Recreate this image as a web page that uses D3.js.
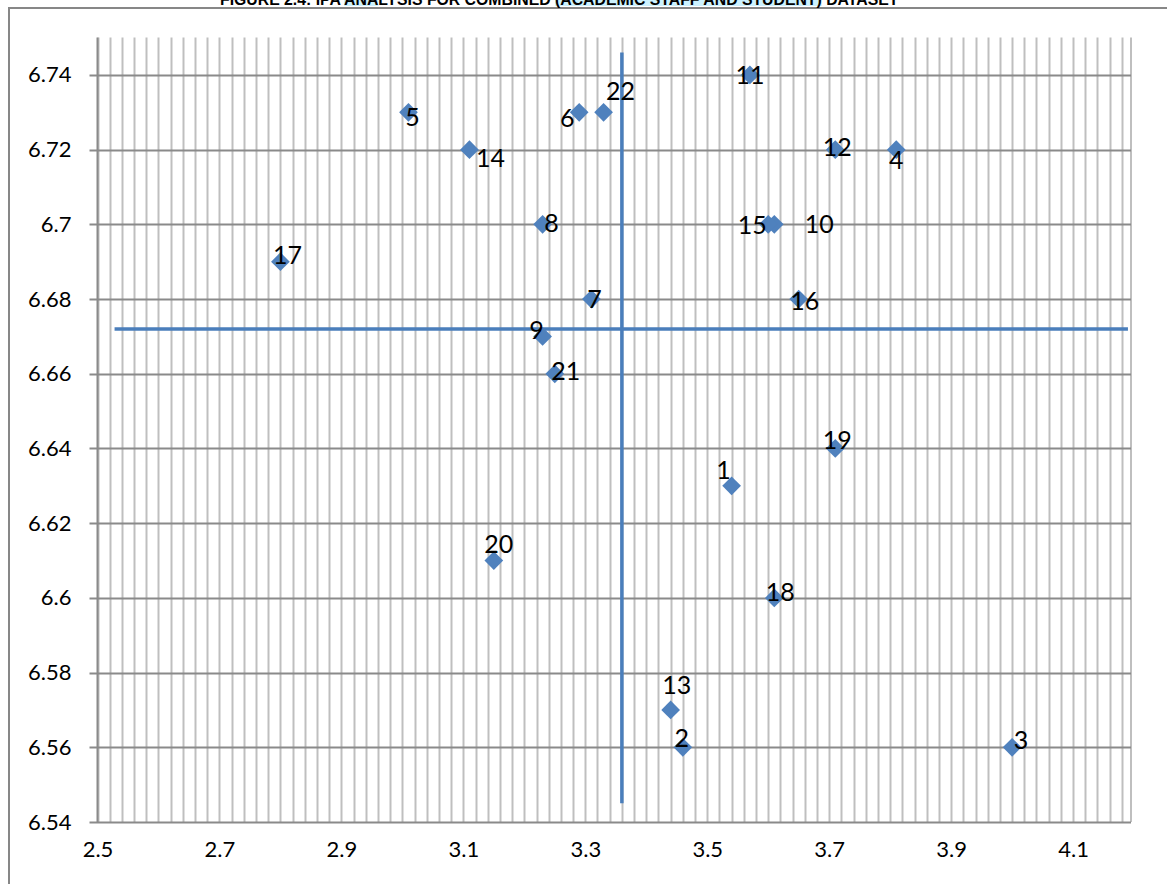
<!DOCTYPE html>
<html lang="en">
    <head>
        <meta charset="utf-8">
        <title>IPA scatter</title>
        <script type="text/javascript" src="https://cdn.jsdelivr.net/npm/d3@7"></script>
        <style type="text/css">
            body { margin: 0; background: #fff; }
            svg { display: block; font-family: Lato, "Open Sans", sans-serif; }
        </style>
    </head>
    <body>
        <script type="text/javascript">
            //Chart size
            var w = 1167;
            var h = 884;

            //Data: item number, x (performance), y (importance)
            var ids = [1, 2, 3, 4, 5, 6, 7, 8, 9, 10, 11, 12, 13, 14, 15, 16, 17, 18, 19, 20, 21, 22];
            var xValues = [3.54, 3.46, 4.00, 3.81, 3.01, 3.29, 3.31, 3.23, 3.23, 3.61, 3.57,
                           3.71, 3.44, 3.11, 3.60, 3.65, 2.80, 3.61, 3.71, 3.15, 3.25, 3.33];
            var yValues = [6.63, 6.56, 6.56, 6.72, 6.73, 6.73, 6.68, 6.70, 6.67, 6.70, 6.74,
                           6.72, 6.57, 6.72, 6.70, 6.68, 6.69, 6.60, 6.64, 6.61, 6.66, 6.73];

            //Crosshair lines (two-point series)
            var vLineX = [3.36, 3.36];
            var vLineY = [6.746, 6.545];
            var hLineX = [2.528, 4.19];
            var hLineY = [6.672, 6.672];

            //Tick labels
            var xTicks = [2.5, 2.7, 2.9, 3.1, 3.3, 3.5, 3.7, 3.9, 4.1];
            var yTicks = [6.54, 6.56, 6.58, 6.6, 6.62, 6.64, 6.66, 6.68, 6.7, 6.72, 6.74];

            var titleParts = ["FIGURE 2.4: IPA ", "ANA", "LYSIS FOR COMBINED ", "(ACADEMIC STAFF AND STUDENT)", " DATASET"];

            //Label nudges (pixels), placed by hand in the original
            var labelOffsets = [[-8, -16], [-1, -9], [9, -7], [0, 10], [4, 5], [-12, 6], [3, 0], [9, -1],
                                [-6, -6], [45, 0], [0, 0], [2, -3], [6, -25], [21, 8], [-16, 1], [6, 2],
                                [7, -7], [6, -6], [2, -8], [5, -17], [11, -3], [17, -21]];

            var svg = d3.select("body")
                        .append("svg")
                        .attr("width", w)
                        .attr("height", h);

            //Plot area
            var pLeft = 97.5, pRight = 1131, pTop = 37.6, pBottom = 822;

            var xScale = d3.scaleLinear()
                            .domain([2.5, 4.195])
                            .range([pLeft, pRight]);

            var yScale = d3.scaleLinear()
                            .domain([6.54, 6.75])
                            .range([pBottom, pTop]);

            //Outer chart border
            svg.append("path")
                .attr("d", "M9,884 V8 H1167")
                .attr("fill", "none")
                .attr("stroke", "#878787")
                .attr("stroke-width", 2);

            //Title (top is cut off in the original)
            var title = svg.append("g");
            var titleText = title.append("text")
                .attr("x", 220)
                .attr("y", 4.5)
                .attr("font-family", "'Liberation Sans', Arial, sans-serif")
                .attr("font-weight", "bold")
                .attr("font-size", "15.8px")
                .attr("fill", "#000");
            titleText.selectAll("tspan")
                .data(titleParts)
                .enter()
                .append("tspan")
                .style("white-space", "pre")
                .text(function(d) { return d; });
            var tx = 220;
            titleText.selectAll("tspan").each(function(d, i) {
                var len = this.getComputedTextLength();
                if (i === 1 || i === 3) {
                    title.insert("rect", "text")
                        .attr("x", tx)
                        .attr("y", -8)
                        .attr("width", len)
                        .attr("height", 14)
                        .attr("fill", "#ccf2ff");
                }
                tx += len;
            });

            //Minor vertical gridlines every 0.02
            var vGrid = d3.range(0, 85).map(function(i) { return +(2.5 + i * 0.02).toFixed(2); });
            svg.append("g")
                .selectAll("line")
                .data(vGrid)
                .enter()
                .append("line")
                .attr("x1", function(d) { return Math.round(xScale(d)) + 0.5; })
                .attr("x2", function(d) { return Math.round(xScale(d)) + 0.5; })
                .attr("y1", pTop)
                .attr("y2", pBottom)
                .attr("stroke", "#bfbfbf")
                .attr("stroke-width", 2);

            //Right border
            svg.append("line")
                .attr("x1", pRight).attr("x2", pRight)
                .attr("y1", pTop).attr("y2", pBottom)
                .attr("stroke", "#bfbfbf")
                .attr("stroke-width", 2);

            //Horizontal major gridlines (with outward ticks)
            svg.append("g")
                .selectAll("line")
                .data(yTicks)
                .enter()
                .append("line")
                .attr("x1", pLeft - 8)
                .attr("x2", pRight)
                .attr("y1", function(d) { return Math.round(yScale(d)) + 0.5; })
                .attr("y2", function(d) { return Math.round(yScale(d)) + 0.5; })
                .attr("stroke", "#8a8a8a")
                .attr("stroke-width", 2);

            //Left axis line
            svg.append("line")
                .attr("x1", pLeft).attr("x2", pLeft)
                .attr("y1", pTop).attr("y2", pBottom)
                .attr("stroke", "#8a8a8a")
                .attr("stroke-width", 2);

            //Axes (labels only, lines drawn above)
            var xAxis = d3.axisBottom(xScale)
                            .tickValues(xTicks)
                            .tickSize(0)
                            .tickPadding(19)
                            .tickFormat(function(d) { return String(+d.toFixed(2)); });
            var yAxis = d3.axisLeft(yScale)
                            .tickValues(yTicks)
                            .tickSize(0)
                            .tickPadding(26)
                            .tickFormat(function(d) { return String(+d.toFixed(2)); });

            svg.append("g")
                .attr("class", "axis")
                .attr("transform", "translate(0," + pBottom + ")")
                .call(xAxis);
            svg.append("g")
                .attr("class", "axis")
                .attr("transform", "translate(" + pLeft + ",0)")
                .call(yAxis);
            svg.selectAll(".axis .domain").remove();
            svg.selectAll(".axis text")
                .attr("font-family", "Lato, 'Open Sans', sans-serif")
                .attr("font-size", "22px")
                .attr("fill", "#000");

            //Crosshair lines
            var line = d3.line()
                .x(function(d) { return xScale(d[0]); })
                .y(function(d) { return yScale(d[1]); });
            svg.append("path")
                .datum(d3.zip(vLineX, vLineY))
                .attr("d", line)
                .attr("fill", "none")
                .attr("stroke", "#4a7ebb")
                .attr("stroke-width", 3.5);
            svg.append("path")
                .datum(d3.zip(hLineX, hLineY))
                .attr("d", line)
                .attr("fill", "none")
                .attr("stroke", "#4a7ebb")
                .attr("stroke-width", 3.5);

            //Points
            var points = ids.map(function(id, i) { return { id: id, x: xValues[i], y: yValues[i], off: labelOffsets[i] }; });

            var diamond = d3.symbol().type(d3.symbolSquare).size(175);
            svg.append("g")
                .selectAll("path")
                .data(points)
                .enter()
                .append("path")
                .attr("d", diamond)
                .attr("transform", function(d) {
                    return "translate(" + xScale(d.x) + "," + yScale(d.y) + ") rotate(45)";
                })
                .attr("fill", "#4f81bd");

            //Point labels
            svg.append("g")
                .selectAll("text")
                .data(points)
                .enter()
                .append("text")
                .text(function(d) { return d.id; })
                .attr("x", function(d) { return xScale(d.x) + d.off[0]; })
                .attr("y", function(d) { return yScale(d.y) + d.off[1]; })
                .attr("text-anchor", "middle")
                .attr("dy", "0.36em")
                .attr("font-family", "Lato, 'Open Sans', sans-serif")
                .attr("font-size", "25px")
                .attr("fill", "#000");
        </script>
    </body>
</html>
